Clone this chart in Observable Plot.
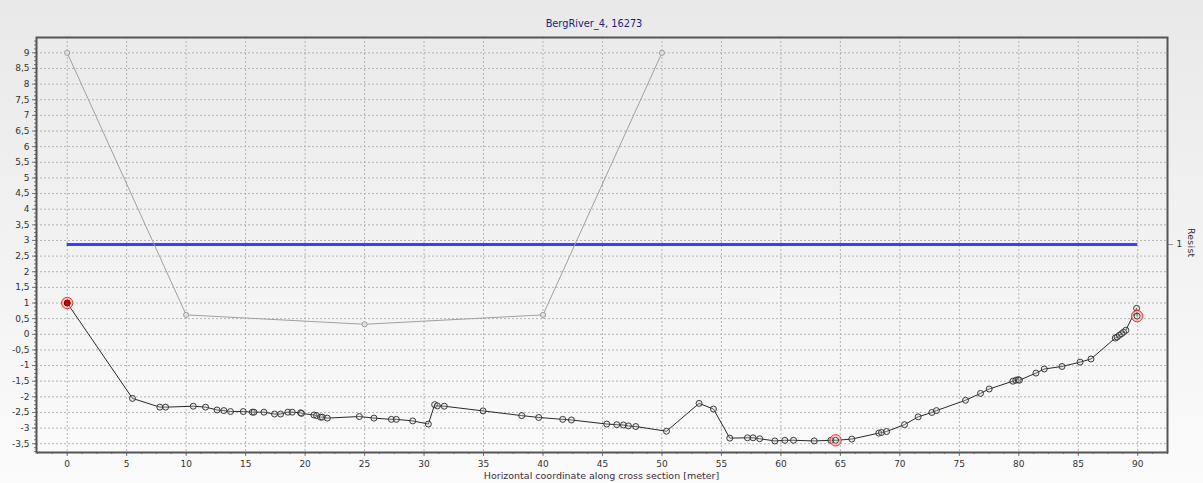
<!DOCTYPE html>
<html>
<head>
<meta charset="utf-8">
<script src="https://cdn.jsdelivr.net/npm/d3@7"></script>
<script src="https://cdn.jsdelivr.net/npm/@observablehq/plot@0.6"></script>
<style>
  html, body { margin: 0; padding: 0; }
  body { width: 1203px; height: 483px; overflow: hidden; font-family: "DejaVu Sans", sans-serif;
         background: linear-gradient(#e9e9e9 0%, #f0f0f0 40%, #fbfbfb 100%); }
  #wrap { position: relative; width: 1203px; height: 483px; }
  #title { position: absolute; left: 0; width: 1188px; top: 18px; text-align: center;
           font-size: 9.8px; color: #1c1c80; }
  #xlabel { position: absolute; left: 0; width: 1203px; top: 470px; text-align: center;
            font-size: 9.5px; color: #3a2a3e; }
  #rlabel { position: absolute; left: 1186px; top: 228px; writing-mode: vertical-rl;
            font-size: 9.3px; color: #333; letter-spacing: 0.3px; }
  svg { position: absolute; left: 0; top: 0; }
</style>
</head>
<body>
<div id="wrap">
  <div id="title">BergRiver_4, 16273</div>
  <div id="xlabel">Horizontal coordinate along cross section [meter]</div>
  <div id="rlabel">Resist</div>
</div>
<pre id="err" style="position:absolute;left:60px;top:60px;color:red;"></pre>
<script>
// Cross-section profile (black)
const profileX = [0, 5.49, 7.79, 8.27, 10.6, 11.63, 12.6, 13.17, 13.73, 14.8, 15.56, 15.7, 16.54, 17.43, 17.94, 18.55, 18.92, 19.62, 19.7, 20.74, 20.97, 21.3, 21.45, 21.87, 24.56, 25.79, 27.25, 27.67, 29.05, 30.36, 30.89, 31.12, 31.7, 34.96, 38.21, 39.64, 41.66, 42.39, 45.36, 46.2, 46.76, 47.18, 47.8, 50.38, 53.12, 54.33, 55.7, 57.19, 57.66, 58.22, 59.49, 60.33, 61.06, 62.8, 64.2, 64.6, 65.96, 68.23, 68.46, 68.88, 70.39, 71.54, 72.69, 73.08, 75.52, 76.78, 77.51, 79.5, 79.75, 79.95, 80.05, 81.44, 82.14, 83.63, 85.15, 86.07, 88.11, 88.26, 88.45, 88.64, 88.81, 89.0, 89.9, 89.95];
const profileY = [1.0, -2.05, -2.33, -2.33, -2.30, -2.33, -2.42, -2.44, -2.47, -2.47, -2.49, -2.49, -2.49, -2.55, -2.55, -2.49, -2.49, -2.51, -2.53, -2.58, -2.60, -2.65, -2.65, -2.68, -2.63, -2.68, -2.72, -2.72, -2.77, -2.87, -2.25, -2.29, -2.30, -2.45, -2.60, -2.66, -2.72, -2.74, -2.87, -2.89, -2.90, -2.93, -2.95, -3.10, -2.21, -2.39, -3.32, -3.31, -3.31, -3.34, -3.41, -3.39, -3.39, -3.41, -3.39, -3.39, -3.35, -3.16, -3.14, -3.11, -2.89, -2.64, -2.50, -2.44, -2.11, -1.89, -1.75, -1.50, -1.47, -1.45, -1.47, -1.24, -1.11, -1.03, -0.89, -0.79, -0.12, -0.09, -0.03, 0.02, 0.07, 0.13, 0.83, 0.58];

// Zone series (gray)
const zoneX = [0, 10, 25, 40, 50];
const zoneY = [9, 0.62, 0.32, 0.62, 9];

// Red markers (bank / lowest points)
const markerX = [0, 64.6, 89.95];
const markerY = [1.0, -3.39, 0.58];

// Resist level (blue)
const resistLevel = 2.87;
const resistFrom = 0;
const resistTo = 90;
const resistTickLabel = "1";

// Ticks
const xTicks = [0, 5, 10, 15, 20, 25, 30, 35, 40, 45, 50, 55, 60, 65, 70, 75, 80, 85, 90];
const yTicks = [-3.5, -3, -2.5, -2, -1.5, -1, -0.5, 0, 0.5, 1, 1.5, 2, 2.5, 3, 3.5, 4, 4.5, 5, 5.5, 6, 6.5, 7, 7.5, 8, 8.5, 9];

try {
const profile = profileX.map((x, i) => ({x, y: profileY[i]}));
const zone = zoneX.map((x, i) => ({x, y: zoneY[i]}));
const markers = markerX.map((x, i) => ({x, y: markerY[i]}));
const xMinor = d3.range(-2.5, 92.6, 1.25);
const yMinor = d3.range(-3.75, 9.5, 0.125);
const fmt = d => String(d).replace(".", ",");

const chart = Plot.plot({
  width: 1203,
  height: 483,
  marginTop: 37,
  marginLeft: 36,
  marginRight: 36,
  marginBottom: 31,
  style: {background: "transparent", fontFamily: "DejaVu Sans, sans-serif", fontSize: "9px", color: "#333"},
  x: {domain: [-2.58, 92.5]},
  y: {domain: [-3.78, 9.49]},
  marks: [
    Plot.gridX(xTicks, {stroke: "#b4b4b4", strokeOpacity: 1, strokeDasharray: "2,2"}),
    Plot.gridY(yTicks, {stroke: "#b4b4b4", strokeOpacity: 1, strokeDasharray: "2,2"}),
    Plot.axisX(xMinor, {tickSize: 2, text: null, stroke: "#777", label: null}),
    Plot.axisX(xTicks, {tickSize: 4, tickPadding: 4, stroke: "#777", label: null, fill: "#333"}),
    Plot.axisY(yMinor, {tickSize: 2, text: null, stroke: "#777", label: null}),
    Plot.axisY(yTicks, {tickSize: 4, tickPadding: 3, tickFormat: fmt, stroke: "#777", label: null, fill: "#333"}),
    Plot.axisY([resistLevel], {anchor: "right", tickSize: 5, tickPadding: 4, tickFormat: () => resistTickLabel, stroke: "#999", label: null, fill: "#333"}),
    Plot.ruleY([resistLevel], {x1: resistFrom, x2: resistTo, stroke: "#3d3dff", strokeWidth: 3}),
    Plot.line(zone, {x: "x", y: "y", stroke: "#a0a0a0", strokeWidth: 1}),
    Plot.dot(zone, {x: "x", y: "y", r: 2.6, stroke: "#a0a0a0", fill: "#e0e0e0", strokeWidth: 1}),
    Plot.line(profile, {x: "x", y: "y", stroke: "#2a2a2a", strokeWidth: 1}),
    Plot.dot(profile, {x: "x", y: "y", r: 3, stroke: "#2a2a2a", fill: "#d0d0d0", fillOpacity: 0.3, strokeWidth: 0.9}),
    Plot.dot(markers.slice(0, 1), {x: "x", y: "y", r: 3, fill: "#d40000", stroke: "#600", strokeWidth: 0.8}),
    Plot.dot(markers, {x: "x", y: "y", r: 4.7, stroke: "#ffb0b0", fill: "none", strokeWidth: 1.4}),
    Plot.dot(markers, {x: "x", y: "y", r: 5.7, stroke: "#f03030", fill: "none", strokeWidth: 1}),
    Plot.frame({stroke: "#555", strokeWidth: 2})
  ]
});
document.getElementById("wrap").appendChild(chart);
} catch (e) { document.getElementById("err").textContent = e.message; }
</script>
</body>
</html>
